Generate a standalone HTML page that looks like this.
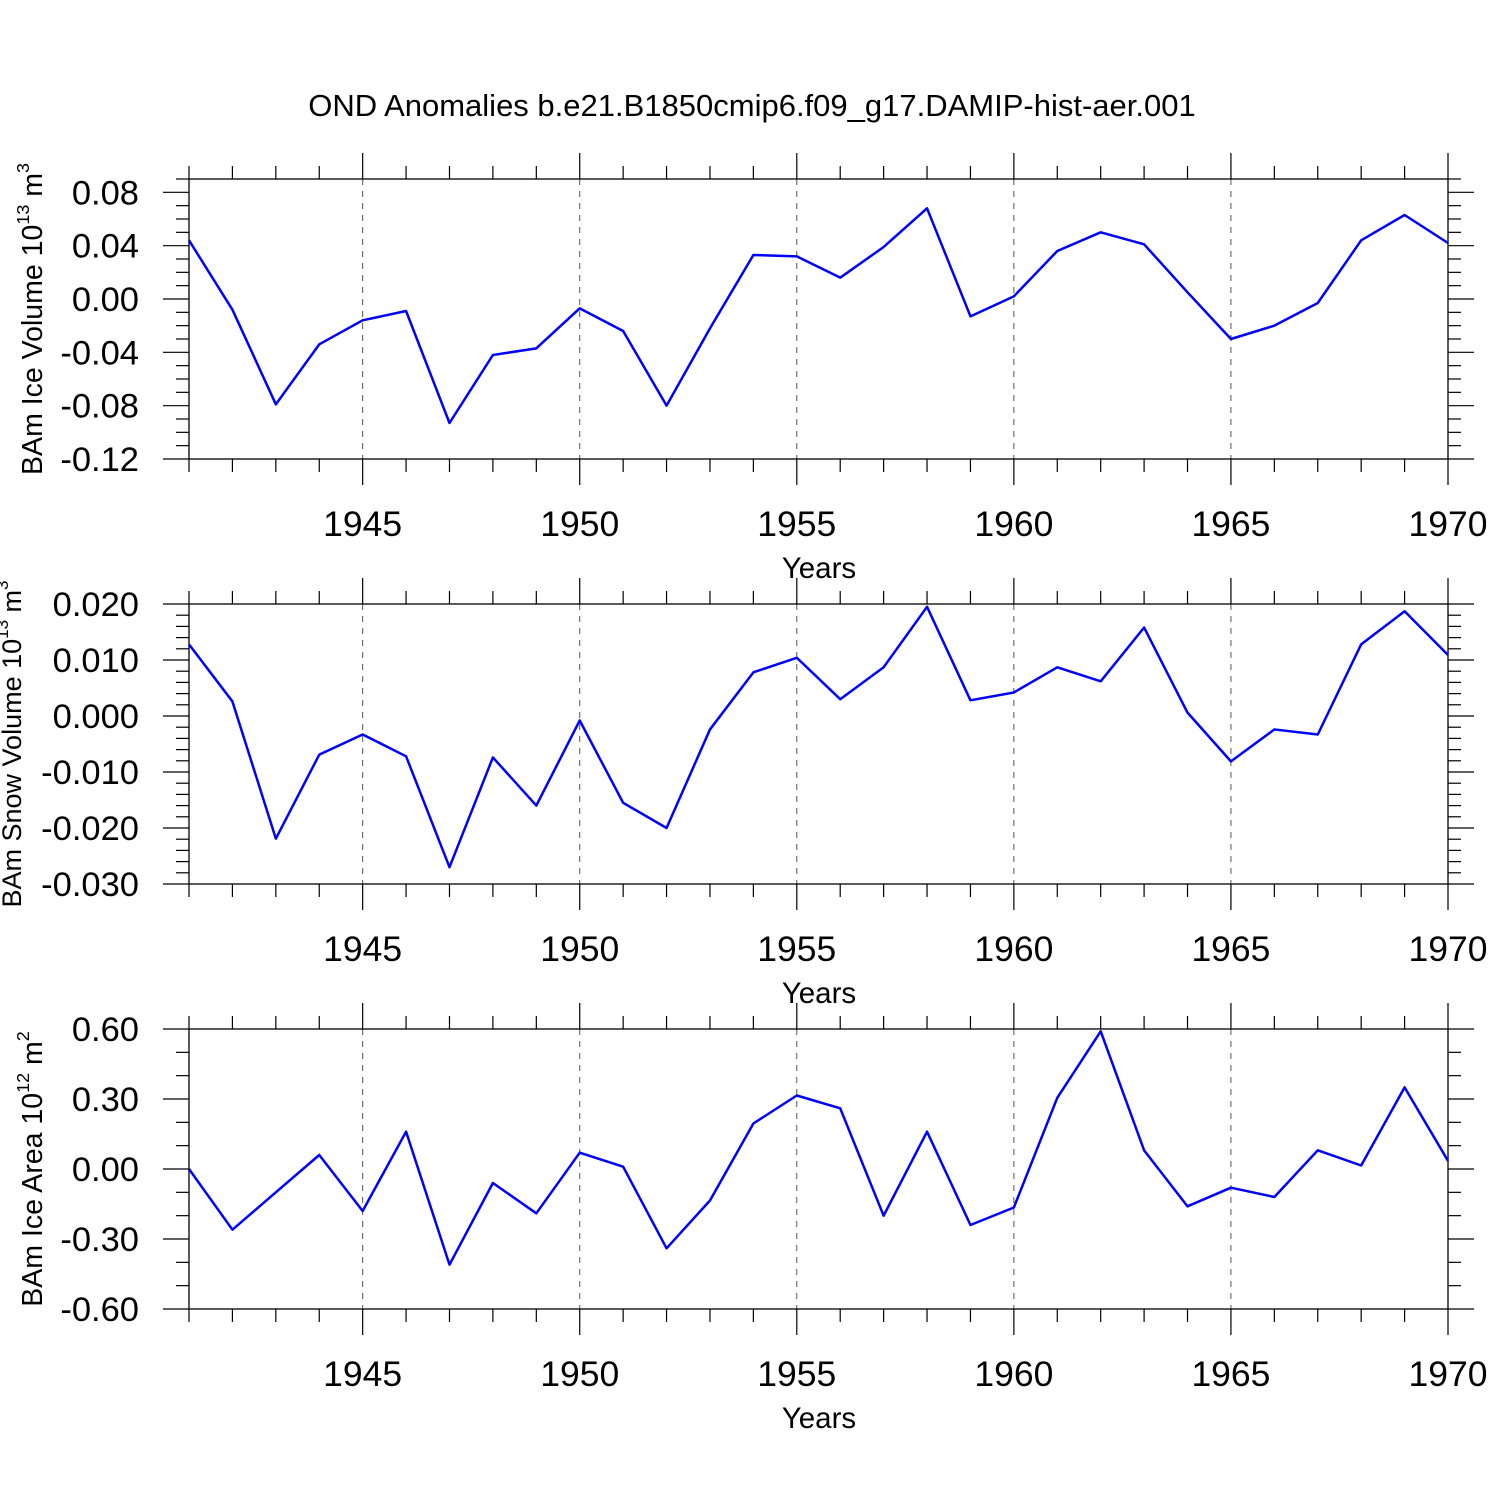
<!DOCTYPE html>
<html><head><meta charset="utf-8"><style>
body{margin:0;background:#fff}
svg{display:block;font-family:"Liberation Sans",Arial,sans-serif}
</style></head><body>
<svg id="c" width="1500" height="1500" viewBox="0 0 1500 1500" xmlns="http://www.w3.org/2000/svg">
<text x="752" y="116" font-size="31" text-anchor="middle">OND Anomalies b.e21.B1850cmip6.f09_g17.DAMIP-hist-aer.001</text>
</svg>
<script>
const years=[1941,1942,1943,1944,1945,1946,1947,1948,1949,1950,1951,1952,1953,1954,1955,1956,1957,1958,1959,1960,1961,1962,1963,1964,1965,1966,1967,1968,1969,1970];
const iceVolume=[0.044,-0.008,-0.079,-0.034,-0.016,-0.009,-0.093,-0.042,-0.037,-0.007,-0.024,-0.080,-0.022,0.033,0.032,0.016,0.039,0.068,-0.013,0.002,0.036,0.050,0.041,0.005,-0.030,-0.020,-0.003,0.044,0.063,0.042];
const snowVolume=[0.0128,0.0026,-0.0219,-0.0069,-0.0033,-0.0072,-0.027,-0.0074,-0.016,-0.0008,-0.0155,-0.020,-0.0024,0.0078,0.0104,0.003,0.0087,0.0195,0.0028,0.0042,0.0087,0.0062,0.0158,0.0006,-0.0081,-0.0024,-0.0033,0.0128,0.0187,0.0109];
const iceArea=[0.0,-0.26,-0.10,0.06,-0.18,0.16,-0.41,-0.06,-0.19,0.07,0.01,-0.34,-0.135,0.195,0.315,0.26,-0.20,0.16,-0.24,-0.165,0.305,0.59,0.08,-0.16,-0.08,-0.12,0.08,0.015,0.35,0.035];
const xTicks=[1945,1950,1955,1960,1965,1970];
const yTicks1=["-0.12","-0.08","-0.04","0.00","0.04","0.08"];
const yTicks2=["-0.030","-0.020","-0.010","0.000","0.010","0.020"];
const yTicks3=["-0.60","-0.30","0.00","0.30","0.60"];
const svg=document.getElementById('c');
const NS='http://www.w3.org/2000/svg';
function el(t,a,p){const e=document.createElementNS(NS,t);for(const k in a)e.setAttribute(k,a[k]);(p||svg).appendChild(e);return e;}
const X0=189,X1=1448,xmin=1941,xmax=1970;
const xs=v=>X0+(v-xmin)/(xmax-xmin)*(X1-X0);
const panels=[
 {name:'ice-volume',top:179,bot:459,ymin:-0.12,ymax:0.09,data:iceVolume,ticks:yTicks1,minor:0.01,tx:42,fs:28.5,title:['BAm Ice Volume 10','13',' m','3']},
 {name:'snow-volume',top:604,bot:884,ymin:-0.03,ymax:0.02,data:snowVolume,ticks:yTicks2,minor:0.002,tx:21,fs:27,title:['BAm Snow Volume 10','13',' m','3']},
 {name:'ice-area',top:1029,bot:1309,ymin:-0.6,ymax:0.6,data:iceArea,ticks:yTicks3,minor:0.1,tx:42,fs:28.5,title:['BAm Ice Area 10','12',' m','2']}
];
panels.forEach(p=>{
 const g=el('g',{});
 
 
 const ys=v=>p.bot-(v-p.ymin)/(p.ymax-p.ymin)*(p.bot-p.top);
 xTicks.forEach(t=>{if(t<xmax){const l=el('line',{x1:xs(t),x2:xs(t),y1:p.top,y2:p.bot,stroke:'#555','stroke-width':1,'stroke-dasharray':'6,6'},g);
  }});
 const f=el('rect',{x:X0,y:p.top,width:X1-X0,height:p.bot-p.top,fill:'none',stroke:'#000','stroke-width':1.3},g);
 
 for(let y=xmin;y<=xmax;y++){const maj=y%5===0;const L=maj?26:13;
  el('line',{x1:xs(y),x2:xs(y),y1:p.top-L,y2:p.top,stroke:'#000','stroke-width':1.2},g);
  el('line',{x1:xs(y),x2:xs(y),y1:p.bot,y2:p.bot+L,stroke:'#000','stroke-width':1.2},g);}
 xTicks.forEach(t=>{const tx=el('text',{x:xs(t),y:p.bot+77,'font-size':35.5,'text-anchor':'middle'},g);tx.textContent=t;
  });
 const xt=el('text',{x:819,y:p.bot+119,'font-size':29.5,'text-anchor':'middle'},g);xt.textContent='Years';
 
 const tv=p.ticks.map(Number);
 const n=Math.round((p.ymax-p.ymin)/p.minor);
 for(let i=0;i<=n;i++){const v=p.ymin+i*p.minor;const maj=tv.some(t=>Math.abs(t-v)<p.minor/10);const L=maj?26:13;
  el('line',{x1:X0-L,x2:X0,y1:ys(v),y2:ys(v),stroke:'#000','stroke-width':1.2},g);
  el('line',{x1:X1,x2:X1+L,y1:ys(v),y2:ys(v),stroke:'#000','stroke-width':1.2},g);}
 p.ticks.forEach(t=>{const tx=el('text',{x:139,y:ys(Number(t))+12,'font-size':34.5,'text-anchor':'end'},g);tx.textContent=t;
  });
 const cy=(p.top+p.bot)/2;
 const yt=el('text',{x:0,y:0,'font-size':p.fs,'text-anchor':'middle',transform:`translate(${p.tx},${cy}) rotate(-90)`},g);
 
 const parts=p.title;
 [[parts[0],0],[parts[1],1],[parts[2],0],[parts[3],1]].forEach(([s,sup])=>{const ts=el('tspan',sup?{'font-size':p.fs*0.63,dy:-13}:{'font-size':p.fs,dy:13},yt);ts.textContent=s;});
 yt.firstChild.setAttribute('dy',0);
 const pts=p.data.map((v,i)=>xs(years[i])+','+ys(v)).join(' ');
 const pl=el('polyline',{points:pts,fill:'none',stroke:'#0000ff','stroke-width':2.5,'stroke-linejoin':'round'},g);
 
});
</script>
</body></html>
